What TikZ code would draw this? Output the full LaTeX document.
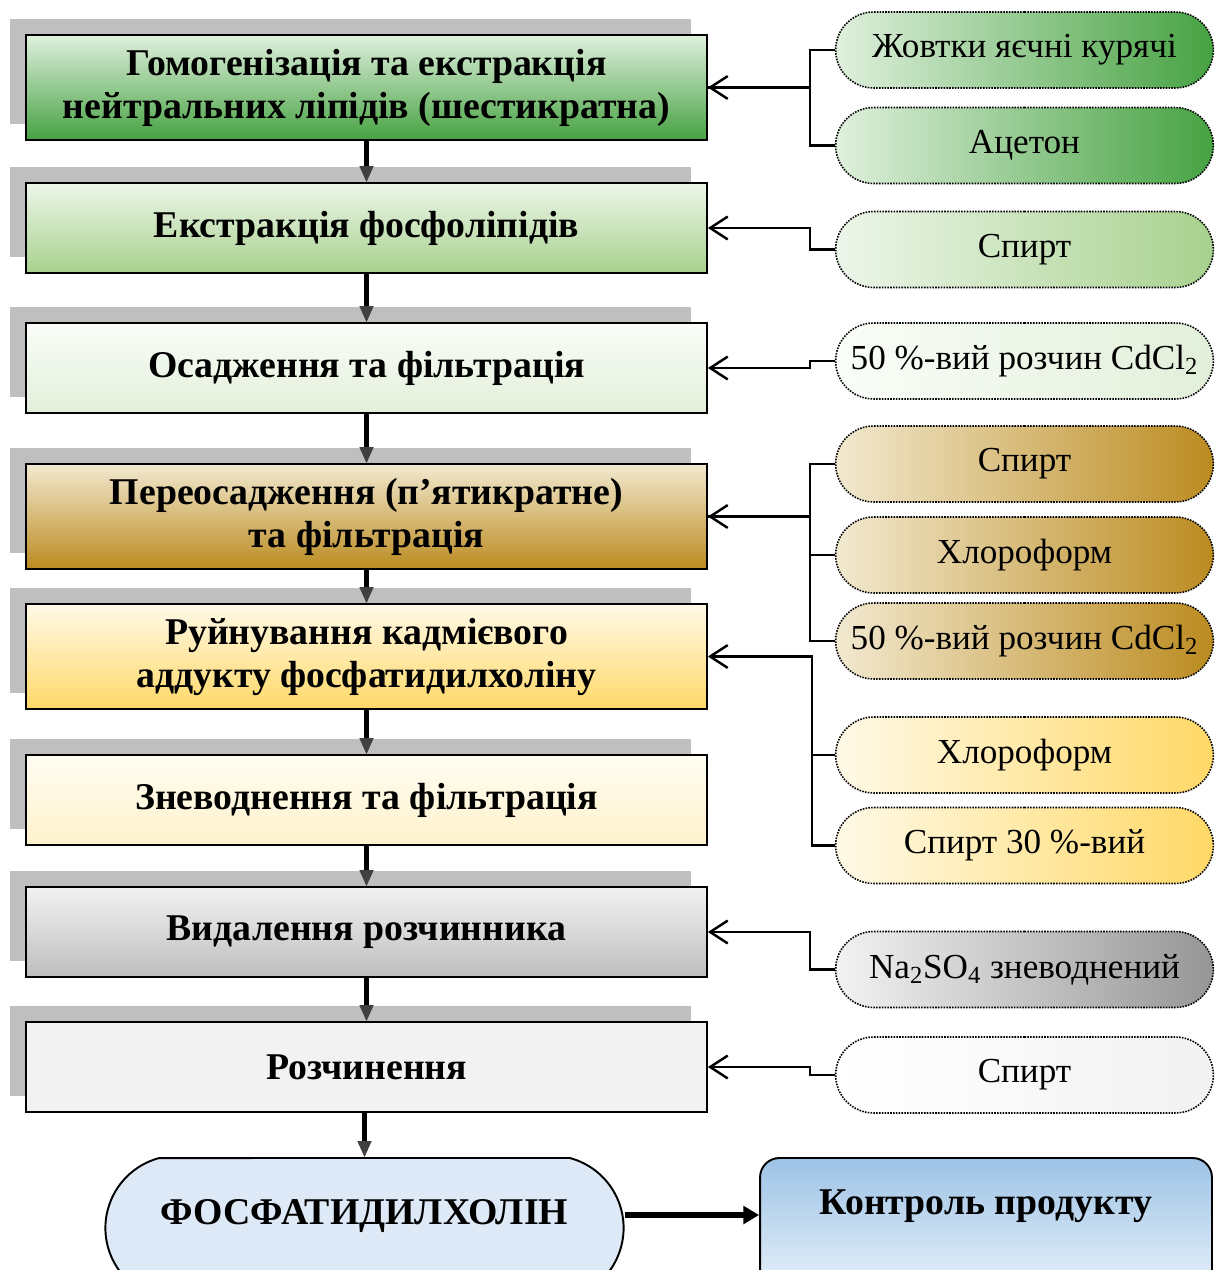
\documentclass[tikz,border=0pt]{standalone}
\usepackage{fontspec}
\setmainfont{Liberation Serif}
\usepackage{tikz}
\usetikzlibrary{arrows.meta}
\usetikzlibrary{shapes.misc}
\usetikzlibrary{shadows}

\definecolor{grnTop}{RGB}{224,240,221}
\definecolor{grnBot}{RGB}{70,162,66}
\definecolor{lgrTop}{RGB}{237,246,234}
\definecolor{lgrBot}{RGB}{168,209,142}
\definecolor{pgrTop}{RGB}{250,253,248}
\definecolor{pgrBot}{RGB}{226,239,218}
\definecolor{brnTop}{RGB}{242,233,208}
\definecolor{brnBot}{RGB}{187,139,32}
\definecolor{ylwTop}{RGB}{255,250,232}
\definecolor{ylwBot}{RGB}{255,216,102}
\definecolor{pylTop}{RGB}{255,253,242}
\definecolor{pylBot}{RGB}{255,242,204}
\definecolor{gryTop}{RGB}{242,242,242}
\definecolor{gryBot}{RGB}{190,190,190}
\definecolor{gryDrk}{RGB}{150,150,150}
\definecolor{bluFill}{RGB}{221,233,246}
\definecolor{bluTop}{RGB}{157,195,230}
\definecolor{bluBot}{RGB}{236,243,251}

\tikzset{
  stepbox/.style={rectangle, draw=black, line width=1.1pt, minimum width=13.62cm,
    minimum height=#1, align=center, font=\fontsize{21.5}{24.5}\selectfont\bfseries,
    drop shadow={shadow xshift=-0.32cm, shadow yshift=0.32cm, fill=black!25, opacity=1}},
  reagent/.style={rounded rectangle, draw=black, line width=0.9pt,
    dash pattern=on 0.9pt off 0.7pt, minimum width=7.79cm, minimum height=1.52cm,
    font=\fontsize{20}{22}\selectfont},
  flow/.style={line width=2.8pt, -{Triangle[length=9pt,width=8pt,color=black!75,fill=black!75,line width=0.4pt]}},
  feed/.style={line width=1.4pt, -{Straight Barb[length=10pt,width=13pt]}},
  link/.style={line width=1.4pt},
}

\begin{document}
\begin{tikzpicture}[x=0.02cm,y=-0.02cm]
    \clip (0,0) rectangle (1214,1270);
    % Process Steps
    \node[stepbox=2.1cm, top color=grnTop, bottom color=grnBot] (hom) at (366.5,87.5)
        {Гомогенізація та екстракція\\нейтральних ліпідів (шестикратна)};
    \node[stepbox=1.8cm, top color=lgrTop, bottom color=lgrBot] (ext) at (366.5,228)
        {Екстракція фосфоліпідів};
    \node[stepbox=1.8cm, top color=pgrTop, bottom color=pgrBot] (osad) at (366.5,368)
        {Осадження та фільтрація};
    \node[stepbox=2.1cm, top color=brnTop, bottom color=brnBot] (pere) at (366.5,516.5)
        {Переосадження (п’ятикратне)\\та фільтрація};
    \node[stepbox=2.1cm, top color=ylwTop, bottom color=ylwBot] (ruin) at (366.5,656.5)
        {Руйнування кадмієвого\\аддукту фосфатидилхоліну};
    \node[stepbox=1.8cm, top color=pylTop, bottom color=pylBot] (znev) at (366.5,800)
        {Зневоднення та фільтрація};
    \node[stepbox=1.8cm, top color=gryTop, bottom color=gryBot] (vyd) at (366.5,932)
        {Видалення розчинника};
    \node[stepbox=1.8cm, fill=gryTop] (rozch) at (366.5,1067)
        {Розчинення};
    % Product
    \node[rounded rectangle, rounded rectangle arc length=150, draw=black, line width=1.1pt,
        fill=bluFill, minimum width=10.6cm, minimum height=2.8cm, text height=0.5cm,
        text depth=0.66cm, font=\fontsize{21.5}{24}\selectfont\bfseries] (fos) at (364.5,1228)
        {ФОСФАТИДИЛХОЛІН};
    \node[rectangle, rounded corners=11pt, draw=black, line width=1.1pt, top color=bluTop,
        bottom color=bluBot, minimum width=9.04cm, minimum height=2.8cm, text height=0.5cm,
        text depth=1.06cm, font=\fontsize{21.5}{24}\selectfont\bfseries] (kon) at (986,1228)
        {Контроль продукту};
    % Reagents
    \node[reagent, left color=grnTop, right color=grnBot] (egg) at (1024.5,50) {Жовтки яєчні курячі};
    \node[reagent, left color=grnTop, right color=grnBot] (acet) at (1024.5,145.5) {Ацетон};
    \node[reagent, left color=lgrTop, right color=lgrBot] (sp1) at (1024.5,249.5) {Спирт};
    \node[reagent, left color=pgrTop, right color=pgrBot] (cd1) at (1024.5,361) {50 \%-вий розчин CdCl\textsubscript{2}};
    \node[reagent, left color=brnTop, right color=brnBot] (sp2) at (1024.5,464) {Спирт};
    \node[reagent, left color=brnTop, right color=brnBot] (chl1) at (1024.5,555) {Хлороформ};
    \node[reagent, left color=brnTop, right color=brnBot] (cd2) at (1024.5,641) {50 \%-вий розчин CdCl\textsubscript{2}};
    \node[reagent, left color=ylwTop, right color=ylwBot] (chl2) at (1024.5,755) {Хлороформ};
    \node[reagent, left color=ylwTop, right color=ylwBot] (sp30) at (1024.5,845.5) {Спирт 30 \%-вий};
    \node[reagent, left color=gryTop, right color=gryDrk] (na) at (1024.5,969.5) {Na\textsubscript{2}SO\textsubscript{4} зневоднений};
    \node[reagent, left color=white, right color=gryTop] (sp3) at (1024.5,1075) {Спирт};
    %
% Main Flow:
 \draw[flow] (hom) -- (ext);
 \draw[flow] (ext) -- (osad);
 \draw[flow] (osad) -- (pere);
 \draw[flow] (pere) -- (ruin);
 \draw[flow] (ruin) -- (znev);
 \draw[flow] (znev) -- (vyd);
 \draw[flow] (vyd) -- (rozch);
 \draw[flow] (rozch.south -| fos.north) -- (fos.north);
 \draw[line width=3.4pt, -{Triangle[length=9pt,width=10pt]}] ([yshift=0.26cm]fos.east) -- ([yshift=0.26cm]kon.west);
 % Reagent Inputs:
 \draw[feed] (egg.west) -- ++(-25,0) |- (hom.east);
 \draw[link] (acet.west) -- ++(-25,0) |- (hom.east);
 \draw[feed] (sp1.west) -- ++(-25,0) |- (ext.east);
 \draw[feed] (cd1.west) -- ++(-25,0) |- (osad.east);
 \draw[feed] (sp2.west) -- ++(-25,0) |- (pere.east);
 \draw[link] (chl1.west) -- ++(-25,0);
 \draw[link] (cd2.west) -- ++(-25,0) |- (pere.east);
 \draw[feed] (sp30.west) -- ++(-23,0) |- (ruin.east);
 \draw[link] (chl2.west) -- ++(-23,0);
 \draw[feed] (na.west) -- ++(-25,0) |- (vyd.east);
 \draw[feed] (sp3.west) -- ++(-25,0) |- (rozch.east);
\end{tikzpicture}
\end{document}
